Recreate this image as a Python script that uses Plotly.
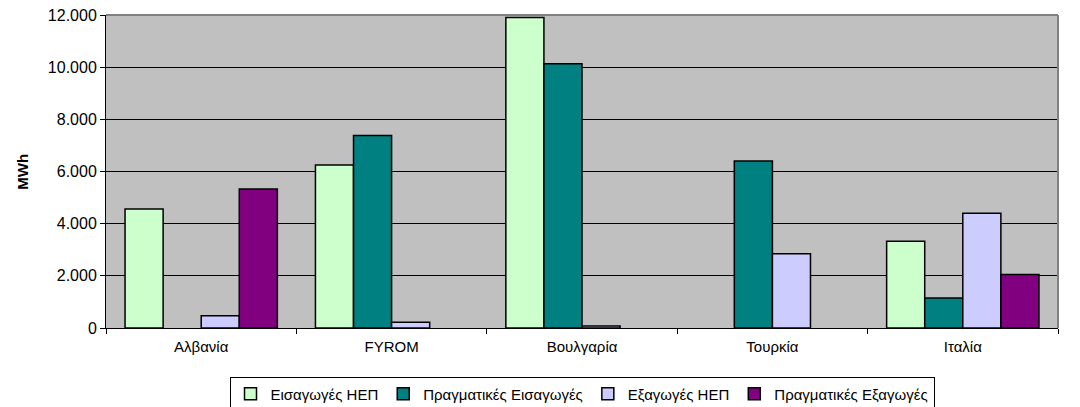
import plotly.graph_objects as go

countries = ['Αλβανία', 'FYROM', 'Βουλγαρία', 'Τουρκία', 'Ιταλία']
series_names = ['Εισαγωγές ΗΕΠ', 'Πραγματικές Εισαγωγές', 'Εξαγωγές ΗΕΠ', 'Πραγματικές Εξαγωγές']
# None = no bar drawn
imports_hep = [4560, 6250, 11900, None, 3330]
imports_real = [None, 7380, 10130, 6400, 1150]
exports_hep = [470, 220, 80, 2850, 4400]
exports_real = [5330, None, None, None, 2050]
colors = ['#CCFFCC', '#008080', '#CCCCFF', '#800080']

font = 'Liberation Sans, Arial, sans-serif'

fig = go.Figure()
for name, vals, col in zip(series_names,
                           [imports_hep, imports_real, exports_hep, exports_real],
                           colors):
    fig.add_trace(go.Bar(x=countries, y=vals, name=name,
                         marker=dict(color=col, line=dict(color='black', width=1.5)),
                         hoverinfo='x+y'))

# page body has an 8px margin, so the margins are shifted to compensate
fig.update_layout(
    width=1080, height=407,
    margin=dict(l=98, r=30, t=7, b=87, autoexpand=False),
    barmode='group', bargap=0.2, bargroupgap=0,
    plot_bgcolor='#C0C0C0', paper_bgcolor='white',
    separators=',.',
    font=dict(family=font, size=15, color='black'),
    legend=dict(orientation='h', x=0.5, xanchor='center', y=-0.155, yanchor='top',
                bordercolor='black', borderwidth=1, bgcolor='white',
                font=dict(size=15), itemwidth=30, tracegroupgap=0),
    showlegend=True,
)
fig.update_yaxes(range=[0, 12000], dtick=2000, tickformat=',d',
                 showgrid=True, gridcolor='black', gridwidth=1,
                 showline=True, linecolor='black', linewidth=1,
                 ticks='outside', ticklen=5, tickcolor='black',
                 tickfont=dict(size=16), ticklabeloverflow='allow',
                 zeroline=False, automargin=False)
fig.update_xaxes(showline=True, linecolor='black', linewidth=1,
                 ticks='outside', ticklen=5, tickcolor='black',
                 tickson='boundaries', showgrid=False, ticklabelstandoff=5,
                 tickfont=dict(size=15), automargin=False)

# y axis title
fig.add_annotation(text='<b>MWh</b>', xref='paper', yref='paper', x=-0.088, y=0.5,
                   textangle=-90, showarrow=False, xanchor='center', yanchor='middle',
                   font=dict(size=15))

# grey frame on top and right like the Excel plot area
fig.add_shape(type='line', xref='paper', yref='paper', x0=0, x1=1, y0=1, y1=1,
              line=dict(color='#808080', width=2))
fig.add_shape(type='line', xref='paper', yref='paper', x0=1, x1=1, y0=0, y1=1,
              line=dict(color='#808080', width=2))

fig.write_html('out.html')
